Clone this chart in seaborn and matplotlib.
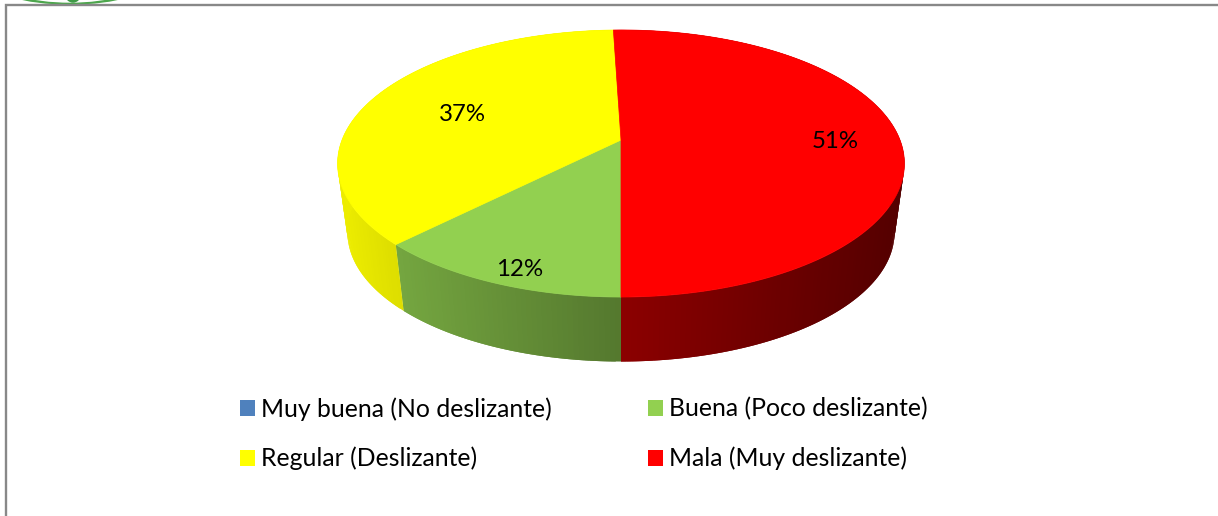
import numpy as np
import matplotlib
matplotlib.use('Agg')
import matplotlib.pyplot as plt
from matplotlib.patches import Ellipse, Patch
import seaborn as sns

# Chart data, shares are estimated so they round to the printed labels
categories = ['Muy buena (No deslizante)', 'Buena (Poco deslizante)',
              'Regular (Deslizante)', 'Mala (Muy deslizante)']
percent = [0, 12.49, 37.0, 50.51]
colors = ['#4F81BD', '#92D050', '#FFFF00', '#FF0000']
# how dark the side wall gets at the left and the right of each slice
wall_shade = [(0.7, 0.7), (0.80, 0.58), (0.93, 0.87), (0.55, 0.33)]

sns.set_theme(style='white')
plt.rcParams['font.family'] = ['Lato', 'DejaVu Sans']

# Pie geometry in pixels, the disc is a circle seen in perspective
APEX_X, APEX_Y = 621, 140
A, B, K = 279.0, 129.4, 0.176
WALL_SCALE, WALL_DROP = 0.965, 70


def project(theta, scale=1.0, drop=0.0):
    x, y = np.cos(theta), np.sin(theta)
    w = 1 + K * y
    return APEX_X + scale * A * x / w, APEX_Y + drop - scale * B * y / w


fig = plt.figure(figsize=(12.18, 5.16), dpi=100)
ax = fig.add_axes([0, 0, 1, 1])
ax.set_xlim(0, 1218)
ax.set_ylim(516, 0)
ax.axis('off')

# Slices run clockwise and the last boundary points straight down
shares = np.array(percent) / sum(percent)
angle = -np.pi / 2
slices = []
for share, color, shade in zip(shares, colors, wall_shade):
    start, end = angle, angle - share * 2 * np.pi
    slices.append((start, end, color, shade))
    angle = end

# side walls first, the top surface covers the hidden part
for start, end, color, shade in slices:
    if start == end:
        continue
    edges = np.linspace(start, end, int(abs(end - start) * 60) + 3)
    seen = edges[np.sin(edges) < 0.1]
    x_left, x_right = project(seen)[0].min(), project(seen)[0].max()
    base = np.array(matplotlib.colors.to_rgb(color))
    # every strip reaches into the next one so no seams show
    for i in range(len(edges) - 1):
        t0, t1 = edges[i], edges[min(i + 2, len(edges) - 1)]
        frac = np.clip((project(edges[i])[0] - x_left) / (x_right - x_left), 0, 1)
        f = shade[0] + (shade[1] - shade[0]) * frac
        top0, top1 = project(t0), project(t1)
        low0, low1 = project(t0, WALL_SCALE, WALL_DROP), project(t1, WALL_SCALE, WALL_DROP)
        ax.fill([top0[0], top1[0], low1[0], low0[0]], [top0[1], top1[1], low1[1], low0[1]],
                color=base * f, lw=0, zorder=2)

for start, end, color, shade in slices:
    if start == end:
        continue
    t = np.linspace(start, end, 300)
    px, py = project(t)
    ax.fill(np.r_[APEX_X, px], np.r_[APEX_Y, py], color=color, lw=0.5, zorder=3)

# Data labels
ax.text(520, 270, f'{percent[1]:.0f}%', fontsize=17.3, color='black', ha='center', va='center', zorder=4)
ax.text(462, 114.5, f'{percent[2]:.0f}%', fontsize=17.3, color='black', ha='center', va='center', zorder=4)
ax.text(835, 142, f'{percent[3]:.0f}%', fontsize=17.3, color='black', ha='center', va='center', zorder=4)

# Legend
handles = [Patch(facecolor=c, edgecolor='none') for c in colors]
order = [0, 2, 1, 3]
ax.legend([handles[i] for i in order], [categories[i] for i in order],
          ncol=2, frameon=False, fontsize=17.8, loc='upper left',
          bbox_to_anchor=(240 / 1218, 1 - 397 / 516),
          handlelength=0.62, handleheight=0.62, handletextpad=0.22,
          columnspacing=3.9, labelspacing=1.06, borderpad=0, borderaxespad=0,
          labelcolor='black')

# Scrap of the logo above the frame
ax.add_patch(Ellipse((70, -22), 168, 52, color='#4CA64C', zorder=1))
ax.add_patch(Ellipse((70, -22), 150, 48, color='white', zorder=1))
ax.add_patch(Ellipse((73, -24), 26, 52, color='#3E9A46', zorder=1))

# Frame, only top and left are in view
ax.plot([6, 6, 1218], [516, 5, 5], color='#888888', lw=1.7, solid_joinstyle='miter', zorder=5)

fig.savefig('out.png', dpi=100)
plt.close(fig)
